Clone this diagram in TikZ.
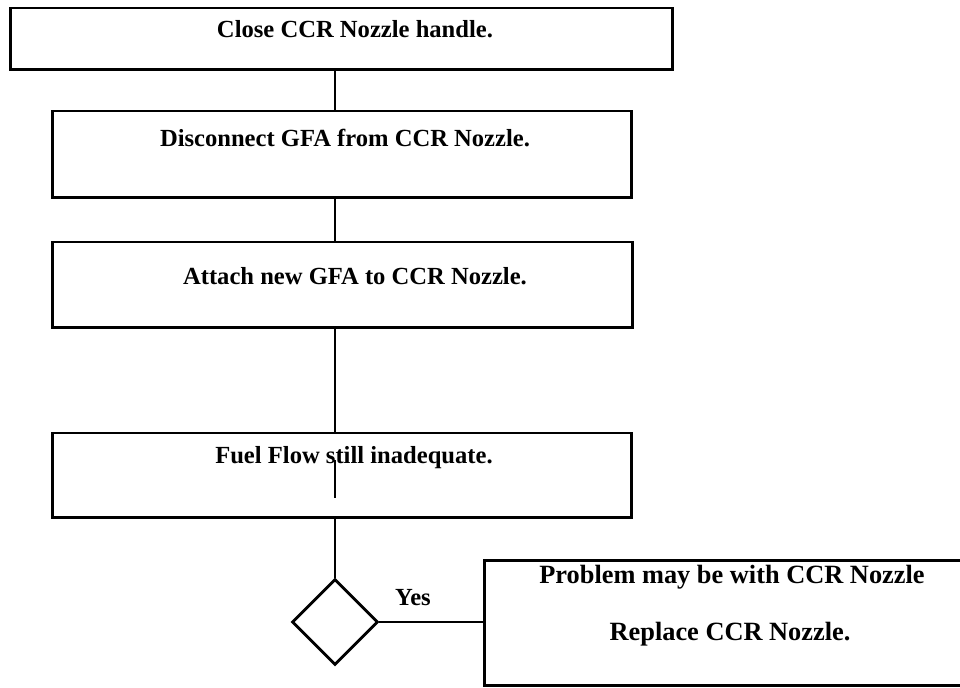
\documentclass[tikz,border=0pt]{standalone}
\usepackage{fontspec}
\setmainfont{Liberation Serif}
\usetikzlibrary{shapes.geometric, positioning}

\begin{document}
\begin{tikzpicture}[x=0.02cm, y=-0.02cm,
  stepbox/.style={rectangle, draw, line width=1.7pt, inner sep=0pt},
  steptext/.style={font=\bfseries\fontsize{14}{16}\selectfont, inner sep=1pt},
  choice/.style={diamond, draw, line width=1.7pt, shape aspect=1,
                 minimum width=1.72cm, minimum height=1.72cm, inner sep=0pt},
  link/.style={line width=1.7pt}
]
\useasboundingbox (0,0) rectangle (960,688);
\coordinate (spine) at (335,0);
\node[stepbox, minimum width=13.26cm, minimum height=1.24cm] (close) at (341.5,39) {};
\node[stepbox, minimum width=11.6cm, minimum height=1.74cm] (detach) at (342,154.5) {};
\node[stepbox, minimum width=11.62cm, minimum height=1.72cm] (attach) at (342.5,285) {};
\node[stepbox, minimum width=11.6cm, minimum height=1.7cm] (fuel) at (342,475.5) {};
\node[choice] (check) at (335,622) {};
\node[stepbox, minimum width=9.92cm, minimum height=2.52cm] (replace) at (732,623) {};
\node[steptext] (closetxt) at (355,29) {Close CCR Nozzle handle.};
\node[steptext] (detachtxt) at (345,138) {Disconnect GFA from CCR Nozzle.};
\node[steptext] (attachtxt) at (355,276) {Attach new GFA to CCR Nozzle.};
\node[steptext] (fueltxt) at (354,458) {Fuel Flow still inadequate.};
\node[steptext, font=\bfseries\fontsize{15}{17}\selectfont] (probtxt) at (732,577) {Problem may be with CCR Nozzle};
\node[steptext, font=\bfseries\fontsize{15}{17}\selectfont] (repltxt) at (730,634) {Replace CCR Nozzle.};
\node[steptext] (yes) at (413,598) {Yes};
\foreach \a/\b in {close/detach, detach/attach, attach/fuel, fuel/check}{
  \draw[link] (\a.south -| spine) -- (\b.north -| spine);
}
\draw[link] (check.east) -- (replace.west |- check.east);
\coordinate (stubtop) at (335,460);
\coordinate (stubend) at (335,498);
\draw[link] (stubtop) -- (stubend);
\end{tikzpicture}
\end{document}
